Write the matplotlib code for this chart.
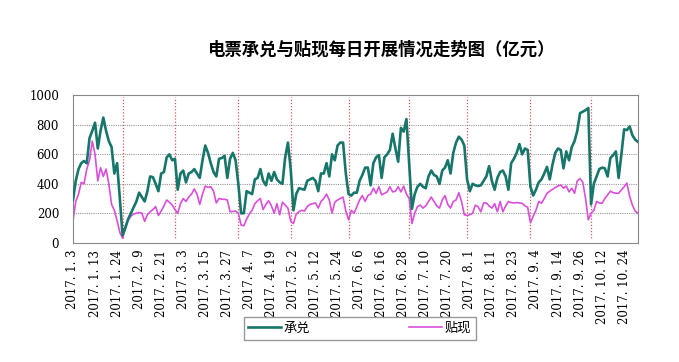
import numpy as np
import pandas as pd
import matplotlib
matplotlib.use("Agg")
import matplotlib.pyplot as plt

plt.rcParams['font.family'] = ['Noto Sans CJK SC', 'DejaVu Sans']

# 2017 trading calendar (holidays removed, weekend make-up days added)
holidays = ["2017-01-27", "2017-01-30", "2017-01-31", "2017-02-01", "2017-02-02",
            "2017-04-03", "2017-04-04", "2017-05-01", "2017-05-29", "2017-05-30",
            "2017-10-02", "2017-10-03", "2017-10-04", "2017-10-05", "2017-10-06"]
makeup_days = ["2017-01-22", "2017-02-04", "2017-04-01", "2017-05-27", "2017-09-30"]

days = pd.bdate_range("2017-01-03", "2017-10-31")
days = days.drop(pd.to_datetime(holidays)).union(pd.to_datetime(makeup_days))

# 承兑 (acceptance), 亿元
acceptance = [290, 420, 500, 540, 555, 540, 710, 760, 815, 640, 760, 850, 760, 690, 650, 470, 540, 300, 50,
              100, 160, 200, 240, 280, 340, 310, 280, 350, 450, 445, 400, 350, 470, 480, 580, 600, 560, 570, 360,
              470, 490, 410, 470, 480, 500, 470, 440, 560, 660, 610, 540, 480, 450, 570, 575, 590, 440, 570, 610,
              560, 400, 200,
              200, 350, 340, 330, 430, 440, 500, 420, 390, 470, 420, 480, 430, 410, 400, 580, 680, 500, 220,
              330, 370, 365, 360, 420, 430, 440, 420, 350, 470, 470, 540,
              450, 600, 560, 660, 680, 680, 470, 330, 320, 340, 340, 420, 460, 510, 510, 390, 540, 580, 595, 440,
              580, 600, 630, 740, 640, 550, 780, 755, 840, 540, 230,
              330, 380, 400, 380, 370, 450, 490, 460, 450, 400, 490, 510, 560, 470, 610, 680, 720, 700, 660, 430, 350,
              400, 390, 385, 390, 420, 450, 520, 420, 360, 440, 480, 490, 450, 360, 540, 570, 610, 670, 600, 640,
              630, 380, 320,
              360, 410, 430, 470, 515, 430, 530, 610, 640, 630, 505, 620, 560, 650, 690, 760, 880, 890, 900, 915,
              260, 400, 450, 500, 510, 505, 450, 575, 595, 620, 440, 600, 770, 765, 790, 730, 700, 685]

# 贴现 (discount), 亿元
discount = [150, 280, 330, 410, 400, 500, 560, 690, 600, 420, 510, 450, 500, 400, 260, 220, 150, 70, 30,
            110, 150, 180, 195, 200, 205, 200, 145, 190, 210,
            225, 245, 185, 215, 250, 290, 275, 255, 225, 200,
            265, 300, 280, 310, 330, 365, 330, 260, 330, 385,
            375, 380, 350, 270, 300, 295, 295, 290, 210, 212,
            215, 200, 120, 115, 160, 195, 220, 265, 285, 300,
            225, 260, 285, 250, 200, 265, 190, 275, 255, 235,
            145, 130, 195, 210, 220, 215, 245, 260, 265, 270,
            235, 280, 300, 330, 290, 200, 275, 290, 300, 310,
            215, 155,
            220, 200, 245, 290, 320, 280, 320, 330, 370, 335,
            380, 325, 335, 345, 380, 345, 350, 380, 345, 385,
            330, 300, 130, 200, 245, 255, 235, 250, 280, 310,
            280, 250, 235, 290, 320, 260, 235, 280, 290, 340,
            280, 190, 185, 190, 200, 255, 245, 210, 270, 270,
            250, 235, 265, 210, 280, 210, 250, 280, 272, 270,
            272, 270, 268, 250, 240, 135, 180, 220, 280, 268,
            300, 335, 350, 362, 375, 385, 392, 370, 385, 345,
            370, 336, 420, 435, 410, 300, 155, 200, 220, 280,
            270, 268, 300, 325, 350, 340, 336, 336, 358, 380,
            405, 315, 255, 215, 200]

assert len(days) == len(acceptance) == len(discount), (len(days), len(acceptance), len(discount))

title = "电票承兑与贴现每日开展情况走势图（亿元）"
tick_labels = [f"{d.year}. {d.month}. {d.day}" for d in days[::8]]

x = np.arange(len(days))
months = days.month.values
month_ends = x[:-1][months[:-1] != months[1:]]

fig = plt.figure(figsize=(6.79, 3.62), dpi=100)
ax = fig.add_axes([0.1075, 0.3296, 0.832, 0.4066])

for v in [200, 400, 600, 800]:
    ax.axhline(v, color="#9a9a9a", ls=(0, (1, 1)), lw=0.8, zorder=1)
ax.vlines(month_ends, 30, 990, colors="#e05a5a", linestyles=(0, (1, 1.5)), lw=0.9, zorder=1)

ax.plot(x, acceptance, color="#17766a", lw=1.9, label="承兑", zorder=3)
ax.plot(x, discount, color="#d94fd9", lw=1.2, label="贴现", zorder=2)

ax.set_xlim(0, len(x) - 1)
ax.set_ylim(0, 1000)
ax.set_yticks(range(0, 1001, 200))
ax.set_yticklabels([str(v) for v in range(0, 1001, 200)], family="DejaVu Serif", fontsize=8.5)
ax.set_xticks(x[::8])
ax.set_xticklabels(tick_labels, rotation=90, family="DejaVu Serif", fontsize=8.5)
ax.tick_params(axis="x", length=0, pad=5)
ax.tick_params(axis="y", length=0, pad=10)
for s in ax.spines.values():
    s.set_color("#888888")

fig.text(0.561, 0.862, title, ha="center", va="center", fontsize=12.5, weight="bold")

fig.legend(loc="center", bbox_to_anchor=(0.53, 0.0925), ncol=2, fancybox=False,
           edgecolor="#999999", columnspacing=7.5, handlelength=2.5, handletextpad=0.2,
           fontsize=9.5, borderpad=0.35, borderaxespad=0, framealpha=1)

fig.savefig("out.png", dpi=100)
